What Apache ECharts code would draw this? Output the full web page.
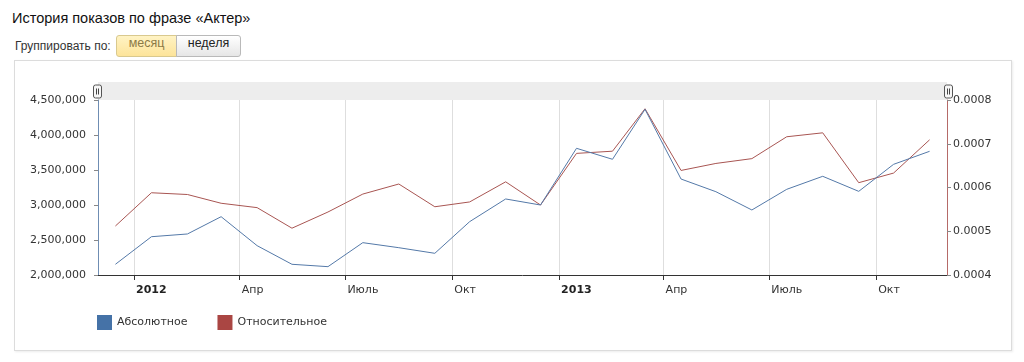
<!DOCTYPE html>
<html>
<head>
<meta charset="utf-8">
<script src="https://cdn.jsdelivr.net/npm/echarts@6/dist/echarts.min.js"></script>
<style>
  html, body { margin: 0; padding: 0; background: #fff; width: 1024px; height: 362px; overflow: hidden; }
  #title { position: absolute; left: 12px; top: 10px; font: 14.5px "Liberation Sans", Arial, sans-serif; color: #111; white-space: nowrap; }
  #grp { position: absolute; left: 15px; top: 39px; font: 12px "Liberation Sans", Arial, sans-serif; color: #333; }
  .btn { position: absolute; top: 35px; height: 22px; line-height: 20px; font: 12.5px "Liberation Sans", Arial, sans-serif; text-align: center; box-sizing: border-box; }
  #b1 { left: 116px; width: 61px; border: 1px solid #d9c98e; border-radius: 3px 0 0 3px; background: linear-gradient(#fff3c4, #fde49a); color: #8c7a45; }
  #b2 { left: 176px; width: 65px; border: 1px solid #b9b9b9; border-radius: 0 3px 3px 0; background: linear-gradient(#ffffff, #e6e6e6); color: #222; }
  #box { position: absolute; left: 14px; top: 60px; width: 998px; height: 291px; border: 1px solid #dcdcdc; box-sizing: border-box; box-shadow: 1px 1px 2px rgba(0,0,0,0.08); }
  #chart { position: absolute; left: 0; top: 0; width: 996px; height: 289px; }
</style>
</head>
<body>
<div id="title">История показов по фразе «Актер»</div>
<div id="grp">Группировать по:</div>
<div class="btn" id="b1">месяц</div>
<div class="btn" id="b2">неделя</div>
<div id="box"><div id="chart"></div></div>
<script>
// ---- data ----
var months = ['2011-12','2012-01','2012-02','2012-03','2012-04','2012-05','2012-06','2012-07','2012-08','2012-09','2012-10','2012-11',
              '2012-12','2013-01','2013-02','2013-03','2013-04','2013-05','2013-06','2013-07','2013-08','2013-09','2013-10','2013-11'];
var absoluteValues = [2153000, 2547000, 2586000, 2833000, 2419000, 2153000, 2119000, 2462000, 2390000, 2310000, 2762000, 3086000,
                      3000000, 3810000, 3653000, 4367000, 3371000, 3190000, 2929000, 3224000, 3410000, 3195000, 3581000, 3767000];
var relativeValues = [0.000512, 0.000588, 0.000584, 0.000564, 0.000554, 0.000507, 0.000544, 0.000585, 0.000608, 0.000556, 0.000567, 0.000613,
                      0.000560, 0.000678, 0.000683, 0.000780, 0.000639, 0.000655, 0.000666, 0.000716, 0.000725, 0.000611, 0.000633, 0.000709];
var seriesNames = ['Абсолютное', 'Относительное'];
var quarterTicks = ['2012-01','2012-04','2012-07','2012-10','2013-01','2013-04','2013-07','2013-10'];
var monthLabels = {3: 'Апр', 6: 'Июль', 9: 'Окт'};

function ym(s, day) { var p = s.split('-'); return Date.UTC(+p[0], +p[1] - 1, day || 1); }

var absData = months.map(function (m, i) { return [ym(m, 16), absoluteValues[i]]; });
var relData = months.map(function (m, i) { return [ym(m, 16), relativeValues[i]]; });
var tickVals = quarterTicks.map(function (m) { return ym(m, 1); });

var font = 'DejaVu Sans, Verdana, sans-serif';
var chart = echarts.init(document.getElementById('chart'), null, {renderer: 'canvas'});
chart.setOption({
  animation: false,
  grid: { left: 83, right: 64, top: 39, bottom: 75 },
  graphic: [
    { type: 'rect', shape: { x: 83, y: 21, width: 849, height: 18 }, style: { fill: '#ededed' }, z: 0 },
    { type: 'group', x: 82.5, y: 30.5, children: [
      { type: 'rect', shape: { x: -4, y: -6.5, width: 8, height: 13, r: 2 }, style: { fill: '#f7f7f7', stroke: '#555', lineWidth: 1 } },
      { type: 'line', shape: { x1: -1, y1: -3, x2: -1, y2: 3 }, style: { stroke: '#444', lineWidth: 1 } },
      { type: 'line', shape: { x1: 1, y1: -3, x2: 1, y2: 3 }, style: { stroke: '#444', lineWidth: 1 } }
    ]},
    { type: 'group', x: 933.5, y: 30.5, children: [
      { type: 'rect', shape: { x: -4, y: -6.5, width: 8, height: 13, r: 2 }, style: { fill: '#f7f7f7', stroke: '#555', lineWidth: 1 } },
      { type: 'line', shape: { x1: -1, y1: -3, x2: -1, y2: 3 }, style: { stroke: '#444', lineWidth: 1 } },
      { type: 'line', shape: { x1: 1, y1: -3, x2: 1, y2: 3 }, style: { stroke: '#444', lineWidth: 1 } }
    ]}
  ],
  legend: {
    left: 77, top: 249,
    icon: 'rect', itemWidth: 15, itemHeight: 15, itemGap: 30,
    textStyle: { fontFamily: font, fontSize: 11, color: '#333' },
    data: seriesNames
  },
  xAxis: {
    type: 'value',
    min: ym('2011-12', 1), max: ym('2013-12', 1),
    axisLine: { show: true, onZero: false, lineStyle: { color: '#333', width: 1 } },
    axisTick: { show: true, length: 5, lineStyle: { color: '#333' }, customValues: tickVals },
    splitLine: { show: true, lineStyle: { color: '#dedede', width: 1 } },
    axisLabel: {
      customValues: tickVals,
      align: 'left', margin: 10, padding: [0, 0, 0, 2],
      fontFamily: font, fontSize: 11, color: '#333',
      formatter: function (v) {
        var d = new Date(v);
        var m = d.getUTCMonth();
        if (m === 0) return '{b|' + d.getUTCFullYear() + '}';
        return monthLabels[m] || '';
      },
      rich: { b: { fontFamily: font, fontSize: 11, fontWeight: 'bold', color: '#222' } }
    }
  },
  yAxis: [
    {
      type: 'value', position: 'left', min: 2000000, max: 4500000, interval: 500000,
      axisLine: { show: true, lineStyle: { color: '#6f8db3', width: 1 } },
      axisTick: { show: true, length: 4, lineStyle: { color: '#888' } },
      splitLine: { show: false },
      axisLabel: {
        margin: 12, fontFamily: font, fontSize: 11, color: '#333',
        formatter: function (v) { return Math.round(v).toString().replace(/\B(?=(\d{3})+(?!\d))/g, ','); }
      }
    },
    {
      type: 'value', position: 'right', min: 0.0004, max: 0.0008, interval: 0.0001,
      axisLine: { show: true, lineStyle: { color: '#b56a68', width: 1 } },
      axisTick: { show: true, length: 4, lineStyle: { color: '#888' } },
      splitLine: { show: false },
      axisLabel: {
        margin: 6, fontFamily: font, fontSize: 11, color: '#333',
        formatter: function (v) { return v.toFixed(4); }
      }
    }
  ],
  series: [
    {
      name: seriesNames[0], type: 'line', yAxisIndex: 0, data: absData,
      symbol: 'none', color: '#4572A7',
      lineStyle: { color: '#5479a8', width: 1 }, z: 3
    },
    {
      name: seriesNames[1], type: 'line', yAxisIndex: 1, data: relData,
      symbol: 'none', color: '#AA4643',
      lineStyle: { color: '#a85552', width: 1 }, z: 2
    }
  ]
});
</script>
</body>
</html>
